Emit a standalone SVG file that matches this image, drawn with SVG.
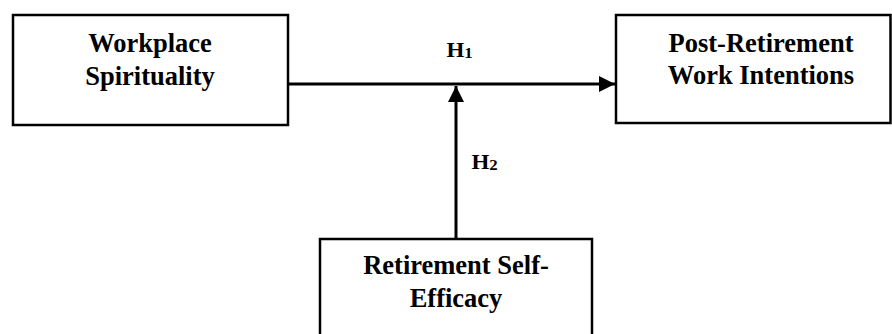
<svg xmlns="http://www.w3.org/2000/svg" width="892" height="334" viewBox="0 0 892 334">
  <style>
    .box { fill: #ffffff; stroke: #000000; stroke-width: 2.5; }
    .edge { stroke: #000000; stroke-width: 3; fill: none; }
  </style>
  <defs>
    <marker id="arrow" viewBox="0 0 16 16" refX="16" refY="8" markerWidth="16" markerHeight="16" markerUnits="userSpaceOnUse" orient="auto">
      <path d="M0,0 L16,8 L0,16 Z" fill="#000000"/>
    </marker>
  </defs>

  <rect width="892" height="334" fill="#ffffff"/>

  <g id="connectors">
    <line class="edge" x1="288" y1="84" x2="615" y2="84" marker-end="url(#arrow)"/>
    <line class="edge" x1="456" y1="239" x2="456" y2="86" marker-end="url(#arrow)"/>
    <!-- hypothesis labels, set slightly wide -->
    <g font-family="'Liberation Serif', 'Times New Roman', serif" font-weight="bold" fill="#000000">
      <text transform="translate(446.5 56.5) scale(1.12 1)" font-size="20.5">H<tspan font-size="15" dy="1">1</tspan></text>
      <text transform="translate(471.5 168.5) scale(1.12 1)" font-size="20.5">H<tspan font-size="15" dy="1">2</tspan></text>
    </g>
  </g>

  <g font-family="'Liberation Serif', 'Times New Roman', serif" font-weight="bold" font-size="26.5" fill="#000000" text-anchor="middle">
    <g id="workplace-spirituality">
      <rect class="box" x="13" y="15" width="275" height="110"/>
      <text x="150" y="52">Workplace</text>
      <text x="150" y="84.5">Spirituality</text>
    </g>

    <g id="post-retirement-work-intentions">
      <rect class="box" x="616" y="15" width="274.5" height="108"/>
      <text x="761" y="52">Post-Retirement</text>
      <text x="761" y="83.5">Work Intentions</text>
    </g>

    <g id="retirement-self-efficacy">
      <rect class="box" x="320" y="239" width="272" height="110"/>
      <text x="456" y="273.5">Retirement Self-</text>
      <text x="456" y="307">Efficacy</text>
    </g>
  </g>
</svg>
